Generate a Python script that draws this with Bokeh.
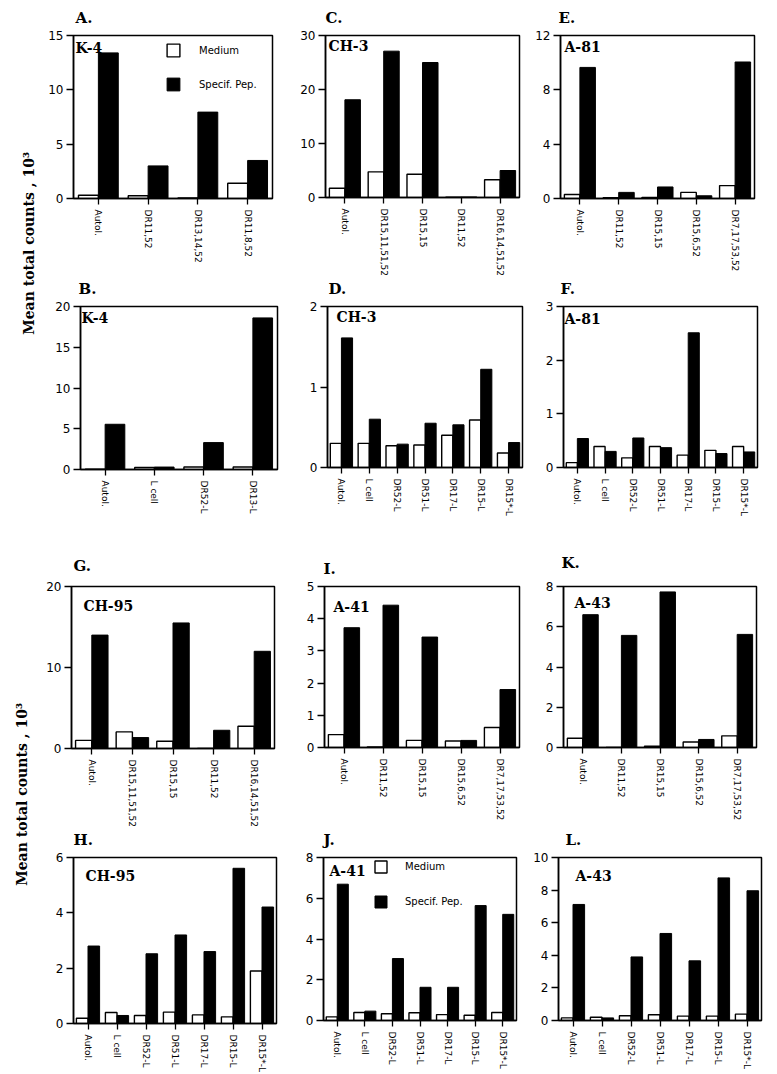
import math
from bokeh.plotting import figure
from bokeh.models import (Range1d, FactorRange, FixedTicker, Label, Legend,
                          LegendItem, ColumnDataSource)
from bokeh.transform import dodge
from bokeh.layouts import row, column
from bokeh.embed import file_html
from bokeh.resources import INLINE

# ---------------- data ----------------
cats_A = ["Autol.", "DR11,52", "DR13,14,52", "DR11,8,52"]
med_A = [0.3, 0.25, 0.05, 1.4]
pep_A = [13.4, 3.0, 7.95, 3.5]

cats_C = ["Autol.", "DR15,11,51,52", "DR15,15", "DR11,52", "DR16,14,51,52"]
med_C = [1.7, 4.75, 4.3, 0.05, 3.3]
pep_C = [18.1, 27.1, 25.0, 0.1, 5.0]

cats_E = ["Autol.", "DR11,52", "DR15,15", "DR15,6,52", "DR7,17,53,52"]
med_E = [0.3, 0.05, 0.08, 0.45, 0.95]
pep_E = [9.65, 0.45, 0.85, 0.2, 10.05]

cats_B = ["Autol.", "L cell", "DR52-L", "DR13-L"]
med_B = [0.05, 0.25, 0.3, 0.3]
pep_B = [5.55, 0.3, 3.3, 18.6]

cats_L7 = ["Autol.", "L cell", "DR52-L", "DR51-L", "DR17-L", "DR15-L", "DR15*-L"]
med_D = [0.3, 0.3, 0.27, 0.28, 0.4, 0.59, 0.18]
pep_D = [1.61, 0.6, 0.29, 0.55, 0.53, 1.22, 0.31]

med_F = [0.09, 0.39, 0.18, 0.39, 0.23, 0.32, 0.39]
pep_F = [0.54, 0.3, 0.55, 0.37, 2.51, 0.26, 0.29]

cats_G = ["Autol.", "DR15,11,51,52", "DR15,15", "DR11,52", "DR16,14,51,52"]
med_G = [1.0, 2.05, 0.9, 0.0, 2.75]
pep_G = [14.0, 1.35, 15.5, 2.25, 12.0]

cats_I = ["Autol.", "DR11,52", "DR15,15", "DR15,6,52", "DR7,17,53,52"]
med_I = [0.4, 0.02, 0.22, 0.2, 0.62]
pep_I = [3.72, 4.42, 3.43, 0.22, 1.8]

med_K = [0.46, 0.0, 0.07, 0.27, 0.58]
pep_K = [6.6, 5.57, 7.73, 0.4, 5.62]

med_H = [0.19, 0.4, 0.29, 0.41, 0.31, 0.24, 1.9]
pep_H = [2.8, 0.29, 2.52, 3.2, 2.6, 5.61, 4.21]

med_J = [0.18, 0.39, 0.33, 0.38, 0.29, 0.26, 0.39]
pep_J = [6.69, 0.46, 3.04, 1.63, 1.63, 5.64, 5.21]

med_L = [0.16, 0.2, 0.29, 0.35, 0.27, 0.27, 0.39]
pep_L = [7.12, 0.16, 3.9, 5.34, 3.66, 8.75, 7.96]

SERIES = ["Medium", "Specif. Pep."]
Y_LABEL = "Mean total counts ,   10\u00b3"
LETTERS = [["A.", "C.", "E."], ["B.", "D.", "F."],
           ["G.", "I.", "K."], ["H.", "J.", "L."]]


def panel(strain, cats, med, pep, ymax, ticks, geom, strain_off, legend=None):
    bl, fw, br, bt, fh, bb = geom
    n = len(cats)
    p = figure(x_range=FactorRange(factors=cats), y_range=Range1d(0, ymax),
               frame_width=fw, frame_height=fh,
               min_border_left=bl, min_border_right=br,
               min_border_top=bt, min_border_bottom=bb,
               output_backend="svg", toolbar_location=None)
    p.xgrid.visible = False
    p.ygrid.visible = False
    p.outline_line_color = "black"
    p.outline_line_width = 1.5
    p.outline_line_alpha = 1.0

    src = ColumnDataSource(dict(cat=cats, med=med, pep=pep))
    r_med = p.vbar(x=dodge("cat", -0.2, range=p.x_range), top="med", width=0.4,
                   source=src, fill_color="white", line_color="black",
                   line_width=1.4)
    r_pep = p.vbar(x=dodge("cat", 0.2, range=p.x_range), top="pep", width=0.4,
                   source=src, fill_color="black", line_color="black",
                   line_width=1.0)

    ya = p.yaxis[0]
    ya.ticker = FixedTicker(ticks=ticks)
    ya.major_tick_in = 0
    ya.major_tick_out = 7
    ya.minor_tick_in = 0
    ya.minor_tick_out = 0
    ya.major_label_standoff = 3
    ya.major_label_text_font = "DejaVu Sans"
    ya.major_label_text_font_size = "12px"
    ya.major_label_text_color = "black"
    ya.axis_line_width = 1.5
    ya.major_tick_line_width = 1.5

    xa = p.xaxis[0]
    xa.major_label_orientation = "vertical"
    xa.major_tick_in = 0
    xa.major_tick_out = 6
    xa.major_tick_line_width = 1.3
    xa.major_label_standoff = 5
    xa.major_label_text_font = "DejaVu Sans"
    xa.major_label_text_font_size = "9px"
    xa.major_label_text_color = "black"
    xa.axis_line_width = 1.5
    xa.group_text_font_size = "0px"

    # donor label inside the frame (dy = baseline offset below frame top)
    dx, dy = strain_off
    p.add_layout(Label(x=dx * n / fw, y=ymax * (1 - (dy - 5) / fh), text=strain,
                       text_font="DejaVu Serif", text_font_style="bold",
                       text_font_size="14px", text_color="black",
                       text_baseline="middle", text_align="left"))

    if legend is not None:
        gx, gy, gsize, spacing, standoff = legend
        leg = Legend(items=[LegendItem(label=SERIES[0], renderers=[r_med]),
                            LegendItem(label=SERIES[1], renderers=[r_pep])],
                     location=(gx, gy), orientation="vertical",
                     glyph_width=gsize, glyph_height=gsize,
                     label_height=gsize, label_width=20,
                     spacing=spacing, label_standoff=standoff,
                     padding=0, margin=0, border_line_color=None,
                     background_fill_alpha=0.0,
                     label_text_font="DejaVu Sans",
                     label_text_font_size="10px",
                     label_text_color="black",
                     label_text_baseline="middle")
        p.add_layout(leg)
    return p


def blank(w, h):
    p = figure(width=w, height=h, x_range=Range1d(0, 1), y_range=Range1d(0, 1),
               min_border=0, x_axis_location=None, y_axis_location=None,
               output_backend="svg", toolbar_location=None)
    p.xgrid.visible = False
    p.ygrid.visible = False
    p.outline_line_color = None
    return p


def strip(letters, xs, ys, h):
    # row of panel letters (A., C., E. ...) above a row of panels
    p = blank(726, h)
    for t, x, y in zip(letters, xs, ys):
        p.add_layout(Label(x=x, y=y, x_units="screen", y_units="screen",
                           text=t, text_font="DejaVu Serif",
                           text_font_style="bold", text_font_size="15px",
                           text_color="black", text_baseline="middle",
                           text_align="left"))
    return p


def ylabel_fig(h, cx, cy):
    p = blank(38, h)
    p.add_layout(Label(x=cx, y=cy, x_units="screen", y_units="screen",
                       text=Y_LABEL, angle=math.pi / 2,
                       text_font="DejaVu Serif", text_font_style="bold",
                       text_font_size="14px", text_color="black",
                       text_align="center", text_baseline="middle"))
    return p


# geometry: (border_left, frame_w, border_right, border_top, frame_h, border_bottom)
pA = panel("K-4", cats_A, med_A, pep_A, 15, [0, 5, 10, 15],
           (35, 199, 3, 8, 163, 78), (2, 17), legend=(92, 106, 16, 18, 18))
pC = panel("CH-3", cats_C, med_C, pep_C, 30, [0, 10, 20, 30],
           (50, 194, 3, 8, 162, 79), (3, 15))
pE = panel("A-81", cats_E, med_E, pep_E, 12, [0, 4, 8, 12],
           (38, 194, 3, 7, 163, 79), (4, 16))

pB = panel("K-4", cats_B, med_B, pep_B, 20, [0, 5, 10, 15, 20],
           (42, 197, 3, 8, 163, 79), (1, 16))
pD = panel("CH-3", cats_L7, med_D, pep_D, 2, [0, 1, 2],
           (47, 195, 3, 7, 161, 82), (9, 15))
pF = panel("A-81", cats_L7, med_F, pep_F, 3, [0, 1, 2, 3],
           (38, 194, 3, 7, 161, 82), (1, 17))

pG = panel("CH-95", cats_G, med_G, pep_G, 20, [0, 10, 20],
           (33, 203, 3, 9, 162, 79), (12, 24))
pI = panel("A-41", cats_I, med_I, pep_I, 5, [0, 1, 2, 3, 4, 5],
           (47, 195, 3, 8, 161, 81), (9, 25))
pK = panel("A-43", cats_I, med_K, pep_K, 8, [0, 2, 4, 6, 8],
           (41, 193, 3, 7, 161, 82), (11, 21))

pH = panel("CH-95", cats_L7, med_H, pep_H, 6, [0, 2, 4, 6],
           (35, 203, 3, 9, 166, 49), (12, 23))
pJ = panel("A-41", cats_L7, med_J, pep_J, 8, [0, 2, 4, 6, 8],
           (44, 193, 3, 7, 163, 54), (6, 18), legend=(50, 111, 15, 20, 17))
pL = panel("A-43", cats_L7, med_L, pep_L, 10, [0, 2, 4, 6, 8, 10],
           (39, 203, 3, 7, 163, 54), (17, 23))

s1 = strip(LETTERS[0], [37, 287, 520], [9.5, 9.5, 9.5], 27)
s2 = strip(LETTERS[1], [40, 290, 522], [9.5, 9.5, 9.5], 19)
s3 = strip(LETTERS[2], [35, 285, 523], [11.5, 9, 14.5], 29)
s4 = strip(LETTERS[3], [35, 285, 527], [9, 9, 9], 18)

top = row(ylabel_fig(545, 28, 307),
          column(s1, row(pA, pC, pE), s2, row(pB, pD, pF)))
bottom = row(ylabel_fig(521, 21, 280),
             column(s3, row(pG, pI, pK), s4, row(pH, pJ, pL)))
layout = column(top, bottom)

open("out.html", "w").write(file_html(layout, INLINE))
